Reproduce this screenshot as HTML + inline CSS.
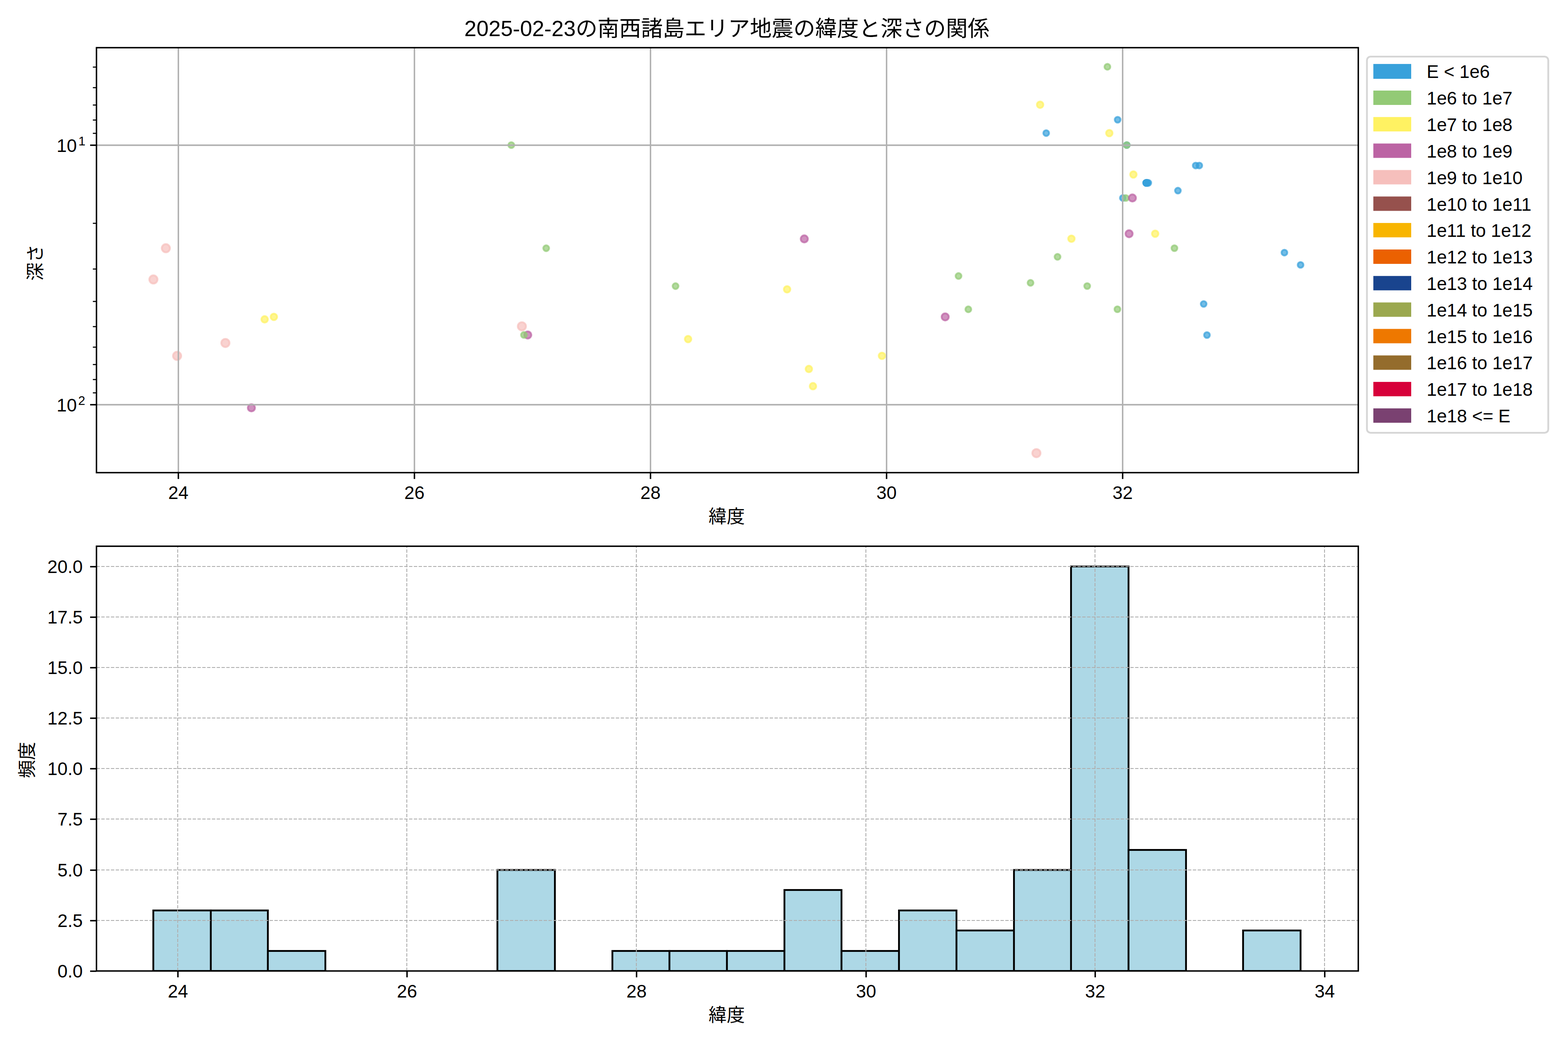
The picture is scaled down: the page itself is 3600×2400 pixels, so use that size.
<!DOCTYPE html>
<html><head><meta charset="utf-8"><title>chart</title><style>html,body{margin:0;padding:0;background:#fff;font-family:"Liberation Sans",sans-serif}svg{display:block}</style></head><body><svg width="3600" height="2400" viewBox="0 0 3600 2400">
<rect width="3600" height="2400" fill="#fff"/>
<defs><clipPath id="c1"><rect x="221.5" y="109.5" width="2897" height="976"/></clipPath><clipPath id="c2"><rect x="221.5" y="1254.5" width="2897" height="975.5"/></clipPath></defs>
<g clip-path="url(#c1)" stroke-width="4.17" fill-opacity="0.7" stroke-opacity="0.7">
<circle cx="380.8" cy="570.1" r="9.40" fill="#F6BFBC" stroke="#F6BFBC"/>
<circle cx="352.2" cy="641.8" r="9.40" fill="#F6BFBC" stroke="#F6BFBC"/>
<circle cx="517.5" cy="787.7" r="9.40" fill="#F6BFBC" stroke="#F6BFBC"/>
<circle cx="406.6" cy="817.3" r="9.40" fill="#F6BFBC" stroke="#F6BFBC"/>
<circle cx="577.2" cy="936.7" r="8.25" fill="#BC64A4" stroke="#BC64A4"/>
<circle cx="607.6" cy="733.4" r="7.45" fill="#FFF262" stroke="#FFF262"/>
<circle cx="628.8" cy="727.8" r="7.45" fill="#FFF262" stroke="#FFF262"/>
<circle cx="1173.9" cy="333.2" r="6.70" fill="#93CA76" stroke="#93CA76"/>
<circle cx="1254.0" cy="570.1" r="6.70" fill="#93CA76" stroke="#93CA76"/>
<circle cx="1198.2" cy="749.4" r="9.40" fill="#F6BFBC" stroke="#F6BFBC"/>
<circle cx="1211.7" cy="769.3" r="8.25" fill="#BC64A4" stroke="#BC64A4"/>
<circle cx="1203.0" cy="769.3" r="6.70" fill="#93CA76" stroke="#93CA76"/>
<circle cx="1551.0" cy="657.1" r="6.70" fill="#93CA76" stroke="#93CA76"/>
<circle cx="1579.8" cy="778.8" r="7.45" fill="#FFF262" stroke="#FFF262"/>
<circle cx="1846.6" cy="548.7" r="8.25" fill="#BC64A4" stroke="#BC64A4"/>
<circle cx="1807.1" cy="664.5" r="7.45" fill="#FFF262" stroke="#FFF262"/>
<circle cx="2024.9" cy="817.3" r="7.45" fill="#FFF262" stroke="#FFF262"/>
<circle cx="1857.1" cy="847.4" r="7.45" fill="#FFF262" stroke="#FFF262"/>
<circle cx="1866.5" cy="886.9" r="7.45" fill="#FFF262" stroke="#FFF262"/>
<circle cx="2200.7" cy="633.9" r="6.70" fill="#93CA76" stroke="#93CA76"/>
<circle cx="2223.2" cy="710.4" r="6.70" fill="#93CA76" stroke="#93CA76"/>
<circle cx="2170.1" cy="727.8" r="8.25" fill="#BC64A4" stroke="#BC64A4"/>
<circle cx="2542.5" cy="153.4" r="6.70" fill="#93CA76" stroke="#93CA76"/>
<circle cx="2388.0" cy="240.6" r="7.45" fill="#FFF262" stroke="#FFF262"/>
<circle cx="2566.0" cy="275.0" r="6.60" fill="#38A1DB" stroke="#38A1DB"/>
<circle cx="2402.0" cy="305.7" r="6.60" fill="#38A1DB" stroke="#38A1DB"/>
<circle cx="2546.9" cy="305.7" r="7.45" fill="#FFF262" stroke="#FFF262"/>
<circle cx="2587.0" cy="333.2" r="6.60" fill="#38A1DB" stroke="#38A1DB"/>
<circle cx="2587.0" cy="333.2" r="6.70" fill="#93CA76" stroke="#93CA76"/>
<circle cx="2745.2" cy="380.2" r="6.60" fill="#38A1DB" stroke="#38A1DB"/>
<circle cx="2753.5" cy="380.2" r="6.60" fill="#38A1DB" stroke="#38A1DB"/>
<circle cx="2602.2" cy="400.8" r="7.45" fill="#FFF262" stroke="#FFF262"/>
<circle cx="2636.5" cy="420.0" r="6.60" fill="#38A1DB" stroke="#38A1DB"/>
<circle cx="2631.5" cy="420.0" r="6.60" fill="#38A1DB" stroke="#38A1DB"/>
<circle cx="2631.5" cy="420.0" r="6.60" fill="#38A1DB" stroke="#38A1DB"/>
<circle cx="2631.5" cy="420.0" r="6.60" fill="#38A1DB" stroke="#38A1DB"/>
<circle cx="2632.7" cy="420.0" r="6.60" fill="#38A1DB" stroke="#38A1DB"/>
<circle cx="2632.7" cy="420.0" r="6.60" fill="#38A1DB" stroke="#38A1DB"/>
<circle cx="2633.9" cy="420.0" r="6.60" fill="#38A1DB" stroke="#38A1DB"/>
<circle cx="2633.9" cy="420.0" r="6.60" fill="#38A1DB" stroke="#38A1DB"/>
<circle cx="2704.4" cy="437.8" r="6.60" fill="#38A1DB" stroke="#38A1DB"/>
<circle cx="2577.9" cy="454.7" r="6.60" fill="#38A1DB" stroke="#38A1DB"/>
<circle cx="2584.6" cy="454.7" r="6.70" fill="#93CA76" stroke="#93CA76"/>
<circle cx="2599.9" cy="454.7" r="8.25" fill="#BC64A4" stroke="#BC64A4"/>
<circle cx="2459.9" cy="548.3" r="7.45" fill="#FFF262" stroke="#FFF262"/>
<circle cx="2428.0" cy="589.9" r="6.70" fill="#93CA76" stroke="#93CA76"/>
<circle cx="2366.0" cy="649.6" r="6.70" fill="#93CA76" stroke="#93CA76"/>
<circle cx="2496.1" cy="657.0" r="6.70" fill="#93CA76" stroke="#93CA76"/>
<circle cx="2565.5" cy="710.3" r="6.70" fill="#93CA76" stroke="#93CA76"/>
<circle cx="2592.3" cy="536.8" r="8.25" fill="#BC64A4" stroke="#BC64A4"/>
<circle cx="2652.2" cy="536.8" r="7.45" fill="#FFF262" stroke="#FFF262"/>
<circle cx="2696.4" cy="570.0" r="6.70" fill="#93CA76" stroke="#93CA76"/>
<circle cx="2763.5" cy="698.1" r="6.60" fill="#38A1DB" stroke="#38A1DB"/>
<circle cx="2771.1" cy="769.5" r="6.60" fill="#38A1DB" stroke="#38A1DB"/>
<circle cx="2948.9" cy="580.2" r="6.60" fill="#38A1DB" stroke="#38A1DB"/>
<circle cx="2986.0" cy="608.4" r="6.60" fill="#38A1DB" stroke="#38A1DB"/>
<circle cx="2379.5" cy="1040.7" r="9.40" fill="#F6BFBC" stroke="#F6BFBC"/>
</g>
<g stroke="#b0b0b0" stroke-width="3.33">
<line x1="409.5" y1="109.5" x2="409.5" y2="1085.5"/>
<line x1="951.5" y1="109.5" x2="951.5" y2="1085.5"/>
<line x1="1493.5" y1="109.5" x2="1493.5" y2="1085.5"/>
<line x1="2035.5" y1="109.5" x2="2035.5" y2="1085.5"/>
<line x1="2577.5" y1="109.5" x2="2577.5" y2="1085.5"/>
<line x1="221.5" y1="333.5" x2="3118.5" y2="333.5"/>
<line x1="221.5" y1="929.5" x2="3118.5" y2="929.5"/>
</g>
<g stroke="#000" stroke-width="3.33">
<line x1="409.5" y1="1085.5" x2="409.5" y2="1100.1"/>
<line x1="951.5" y1="1085.5" x2="951.5" y2="1100.1"/>
<line x1="1493.5" y1="1085.5" x2="1493.5" y2="1100.1"/>
<line x1="2035.5" y1="1085.5" x2="2035.5" y2="1100.1"/>
<line x1="2577.5" y1="1085.5" x2="2577.5" y2="1100.1"/>
<line x1="206.9" y1="333.5" x2="221.5" y2="333.5"/>
<line x1="206.9" y1="929.5" x2="221.5" y2="929.5"/>
</g>
<g stroke="#000" stroke-width="2.5">
<line x1="213.2" y1="154.1" x2="221.5" y2="154.1"/>
<line x1="213.2" y1="201.3" x2="221.5" y2="201.3"/>
<line x1="213.2" y1="241.2" x2="221.5" y2="241.2"/>
<line x1="213.2" y1="275.7" x2="221.5" y2="275.7"/>
<line x1="213.2" y1="306.2" x2="221.5" y2="306.2"/>
<line x1="213.2" y1="512.9" x2="221.5" y2="512.9"/>
<line x1="213.2" y1="617.9" x2="221.5" y2="617.9"/>
<line x1="213.2" y1="692.3" x2="221.5" y2="692.3"/>
<line x1="213.2" y1="750.1" x2="221.5" y2="750.1"/>
<line x1="213.2" y1="797.3" x2="221.5" y2="797.3"/>
<line x1="213.2" y1="837.2" x2="221.5" y2="837.2"/>
<line x1="213.2" y1="871.7" x2="221.5" y2="871.7"/>
<line x1="213.2" y1="902.2" x2="221.5" y2="902.2"/>
</g>
<rect x="221.5" y="109.5" width="2897.0" height="976.0" fill="none" stroke="#000" stroke-width="3.33"/>
<g font-family="&quot;Liberation Sans&quot;, &quot;Noto Sans CJK JP&quot;, sans-serif" font-size="41.7" fill="#000">
<g text-anchor="middle">
<text x="409.5" y="1145.7">24</text>
<text x="951.5" y="1145.7">26</text>
<text x="1493.5" y="1145.7">28</text>
<text x="2035.5" y="1145.7">30</text>
<text x="2577.5" y="1145.7">32</text>
<text x="1668.5" y="1201">緯度</text>
<text transform="translate(96,603) rotate(-90)">深さ</text>
<text x="1669" y="83.3" font-size="50">2025-02-23の南西諸島エリア地震の緯度と深さの関係</text>
</g>
<text x="130" y="349.3">10</text>
<text x="180" y="334.3" font-size="29">1</text>
<text x="130" y="945.3">10</text>
<text x="179.5" y="930.3" font-size="29">2</text>
</g>
<rect x="3138.4" y="130" width="416.3" height="864" rx="8.3" fill="#fff" stroke="#ccc" stroke-opacity="0.8" stroke-width="4.17"/>
<rect x="3153.1" y="146.9" width="86.9" height="34.1" fill="#38A1DB"/>
<rect x="3153.1" y="208.0" width="86.9" height="33.0" fill="#93CA76"/>
<rect x="3153.1" y="268.8" width="86.9" height="33.0" fill="#FFF262"/>
<rect x="3153.1" y="329.6" width="86.9" height="33.0" fill="#BC64A4"/>
<rect x="3153.1" y="390.5" width="86.9" height="33.0" fill="#F6BFBC"/>
<rect x="3153.1" y="451.3" width="86.9" height="33.0" fill="#96514D"/>
<rect x="3153.1" y="512.1" width="86.9" height="33.0" fill="#F8B500"/>
<rect x="3153.1" y="573.0" width="86.9" height="33.0" fill="#EB6101"/>
<rect x="3153.1" y="633.8" width="86.9" height="33.0" fill="#19448E"/>
<rect x="3153.1" y="694.6" width="86.9" height="33.0" fill="#9BA84F"/>
<rect x="3153.1" y="755.4" width="86.9" height="33.0" fill="#EE7800"/>
<rect x="3153.1" y="816.3" width="86.9" height="33.0" fill="#946C2C"/>
<rect x="3153.1" y="877.1" width="86.9" height="33.0" fill="#D7003A"/>
<rect x="3153.1" y="937.9" width="86.9" height="33.0" fill="#7A4171"/>
<g font-family="&quot;Liberation Sans&quot;, sans-serif" font-size="41.7" fill="#000">
<text x="3275.5" y="179.4">E &lt; 1e6</text>
<text x="3275.5" y="240.2">1e6 to 1e7</text>
<text x="3275.5" y="301">1e7 to 1e8</text>
<text x="3275.5" y="361.8">1e8 to 1e9</text>
<text x="3275.5" y="422.6">1e9 to 1e10</text>
<text x="3275.5" y="483.5">1e10 to 1e11</text>
<text x="3275.5" y="544.3">1e11 to 1e12</text>
<text x="3275.5" y="605.1">1e12 to 1e13</text>
<text x="3275.5" y="665.9">1e13 to 1e14</text>
<text x="3275.5" y="726.7">1e14 to 1e15</text>
<text x="3275.5" y="787.5">1e15 to 1e16</text>
<text x="3275.5" y="848.3">1e16 to 1e17</text>
<text x="3275.5" y="909.1">1e17 to 1e18</text>
<text x="3275.5" y="969.9">1e18 &lt;= E</text>
</g>
<g clip-path="url(#c2)" fill="#ADD8E6" stroke="#000" stroke-width="4.17">
<rect x="352" y="2091" width="132" height="139.0"/>
<rect x="484" y="2091" width="131" height="139.0"/>
<rect x="615" y="2184" width="132" height="46.0"/>
<rect x="1142" y="1998" width="132" height="232.0"/>
<rect x="1406" y="2184" width="131" height="46.0"/>
<rect x="1537" y="2184" width="132" height="46.0"/>
<rect x="1669" y="2184" width="132" height="46.0"/>
<rect x="1801" y="2044" width="131" height="186.0"/>
<rect x="1932" y="2184" width="132" height="46.0"/>
<rect x="2064" y="2091" width="132" height="139.0"/>
<rect x="2196" y="2137" width="132" height="93.0"/>
<rect x="2328" y="1998" width="131" height="232.0"/>
<rect x="2459" y="1301" width="132" height="929.0"/>
<rect x="2591" y="1952" width="132" height="278.0"/>
<rect x="2854" y="2137" width="132" height="93.0"/>
</g>
<g stroke="#b0b0b0" stroke-width="2.08" stroke-dasharray="7.71 3.33">
<line x1="408.0" y1="2230.0" x2="408.0" y2="1254.5"/>
<line x1="934.0" y1="2230.0" x2="934.0" y2="1254.5"/>
<line x1="1461.0" y1="2230.0" x2="1461.0" y2="1254.5"/>
<line x1="1988.0" y1="2230.0" x2="1988.0" y2="1254.5"/>
<line x1="2514.0" y1="2230.0" x2="2514.0" y2="1254.5"/>
<line x1="3041.0" y1="2230.0" x2="3041.0" y2="1254.5"/>
<line x1="221.5" y1="2230.0" x2="3118.5" y2="2230.0"/>
<line x1="221.5" y1="2114.0" x2="3118.5" y2="2114.0"/>
<line x1="221.5" y1="1998.0" x2="3118.5" y2="1998.0"/>
<line x1="221.5" y1="1881.0" x2="3118.5" y2="1881.0"/>
<line x1="221.5" y1="1765.0" x2="3118.5" y2="1765.0"/>
<line x1="221.5" y1="1649.0" x2="3118.5" y2="1649.0"/>
<line x1="221.5" y1="1533.0" x2="3118.5" y2="1533.0"/>
<line x1="221.5" y1="1417.0" x2="3118.5" y2="1417.0"/>
<line x1="221.5" y1="1301.0" x2="3118.5" y2="1301.0"/>
</g>
<g stroke="#000" stroke-width="3.33">
<line x1="408.5" y1="2230.0" x2="408.5" y2="2244.6"/>
<line x1="934.5" y1="2230.0" x2="934.5" y2="2244.6"/>
<line x1="1461.5" y1="2230.0" x2="1461.5" y2="2244.6"/>
<line x1="1988.5" y1="2230.0" x2="1988.5" y2="2244.6"/>
<line x1="2514.5" y1="2230.0" x2="2514.5" y2="2244.6"/>
<line x1="3041.5" y1="2230.0" x2="3041.5" y2="2244.6"/>
<line x1="206.9" y1="2230.5" x2="221.5" y2="2230.5"/>
<line x1="206.9" y1="2114.5" x2="221.5" y2="2114.5"/>
<line x1="206.9" y1="1998.5" x2="221.5" y2="1998.5"/>
<line x1="206.9" y1="1881.5" x2="221.5" y2="1881.5"/>
<line x1="206.9" y1="1765.5" x2="221.5" y2="1765.5"/>
<line x1="206.9" y1="1649.5" x2="221.5" y2="1649.5"/>
<line x1="206.9" y1="1533.5" x2="221.5" y2="1533.5"/>
<line x1="206.9" y1="1417.5" x2="221.5" y2="1417.5"/>
<line x1="206.9" y1="1301.5" x2="221.5" y2="1301.5"/>
</g>
<rect x="221.5" y="1254.5" width="2897.0" height="975.5" fill="none" stroke="#000" stroke-width="3.33"/>
<g font-family="&quot;Liberation Sans&quot;, &quot;Noto Sans CJK JP&quot;, sans-serif" font-size="41.7" fill="#000">
<g text-anchor="middle">
<text x="408.5" y="2290.9">24</text>
<text x="934.5" y="2290.9">26</text>
<text x="1461.5" y="2290.9">28</text>
<text x="1988.5" y="2290.9">30</text>
<text x="2514.5" y="2290.9">32</text>
<text x="3041.5" y="2290.9">34</text>
<text x="1668.5" y="2346">緯度</text>
<text transform="translate(77,1745.5) rotate(-90)">頻度</text>
</g>
<g text-anchor="end">
<text x="190" y="2245.1">0.0</text>
<text x="190" y="2129.1">2.5</text>
<text x="190" y="2013.1">5.0</text>
<text x="190" y="1896.1">7.5</text>
<text x="190" y="1780.1">10.0</text>
<text x="190" y="1664.1">12.5</text>
<text x="190" y="1548.1">15.0</text>
<text x="190" y="1432.1">17.5</text>
<text x="190" y="1316.1">20.0</text>
</g>
</g>
</svg></body></html>
